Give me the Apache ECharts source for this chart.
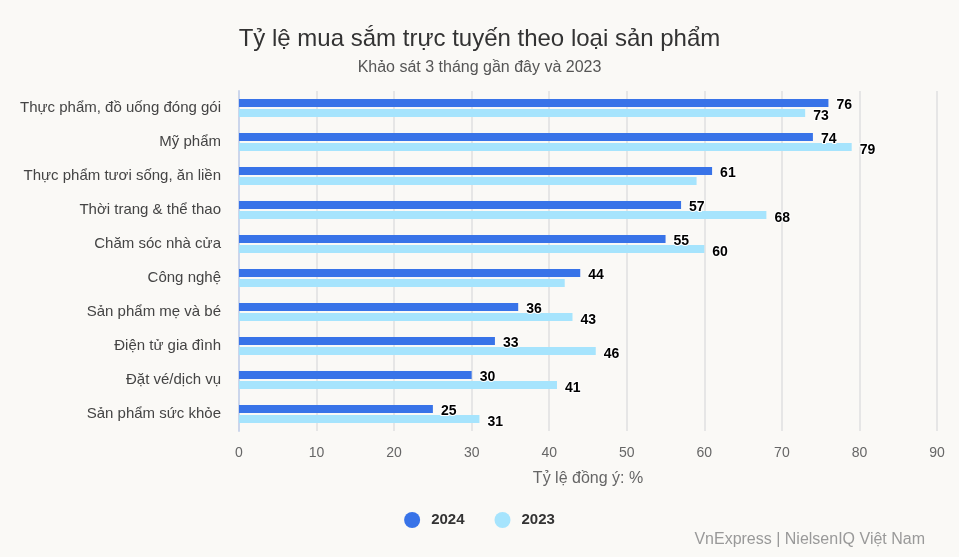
<!DOCTYPE html>
<html>
<head>
<meta charset="utf-8">
<style>
  html, body { margin: 0; padding: 0; background: #faf9f6; }
  #chart { width: 959px; height: 557px; }
</style>
<script src="https://cdn.jsdelivr.net/npm/echarts@6/dist/echarts.min.js"></script>
</head>
<body>
<div id="chart"></div>
<script>
const categories = [
  'Thực phẩm, đồ uống đóng gói',
  'Mỹ phẩm',
  'Thực phẩm tươi sống, ăn liền',
  'Thời trang & thể thao',
  'Chăm sóc nhà cửa',
  'Công nghệ',
  'Sản phẩm mẹ và bé',
  'Điện tử gia đình',
  'Đặt vé/dịch vụ',
  'Sản phẩm sức khỏe'
]
const values2024 = [76, 74, 61, 57, 55, 44, 36, 33, 30, 25]
const values2023 = [73, 79, 59, 68, 60, 42, 43, 46, 41, 31]
// labels that the original hides (overlap)
const hidden2023 = [2, 5]

const font = '"Liberation Sans", Arial, sans-serif'

const chart = echarts.init(document.getElementById('chart'))

function barLabel(dy) {
  return {
    show: true,
    position: 'right',
    distance: 8,
    offset: [0, dy],
    color: '#000',
    fontWeight: 'bold',
    fontSize: 14,
    fontFamily: font,
    textBorderColor: '#fff',
    textBorderWidth: 2
  }
}

chart.setOption({
  backgroundColor: '#faf9f6',
  animation: false,
  title: {
    text: 'Tỷ lệ mua sắm trực tuyến theo loại sản phẩm',
    subtext: 'Khảo sát 3 tháng gần đây và 2023',
    left: 'center',
    top: 22,
    itemGap: 9,
    textStyle: { fontFamily: font, fontSize: 24, fontWeight: 'normal', color: '#333' },
    subtextStyle: { fontFamily: font, fontSize: 16, color: '#555' }
  },
  grid: { left: 239, right: 22, top: 91, bottom: 126 },
  legend: {
    data: ['2024', '2023'],
    bottom: 24,
    left: 'center',
    icon: 'circle',
    itemWidth: 16,
    itemHeight: 16,
    itemGap: 30,
    textStyle: { fontFamily: font, fontSize: 15, fontWeight: 'bold', color: '#333', padding: [0, 0, 0, 6] }
  },
  graphic: [{
    type: 'text',
    right: 34,
    bottom: 9,
    style: { text: 'VnExpress | NielsenIQ Việt Nam', font: '16px ' + font, fill: '#999' }
  }],
  xAxis: {
    type: 'value',
    min: 0,
    max: 90,
    interval: 10,
    name: 'Tỷ lệ đồng ý: %',
    nameLocation: 'middle',
    nameGap: 40,
    nameTextStyle: { fontFamily: font, fontSize: 16, color: '#666' },
    axisLabel: { fontFamily: font, fontSize: 14, color: '#666', margin: 15 },
    axisLine: { show: false },
    axisTick: { show: false },
    splitLine: { lineStyle: { color: '#e6e6e6', width: 2 } }
  },
  yAxis: {
    type: 'category',
    data: categories,
    inverse: true,
    axisLine: { show: true, lineStyle: { color: '#ccd6eb', width: 2 } },
    axisTick: { show: false },
    axisLabel: { fontFamily: font, fontSize: 15, color: '#444', margin: 18 }
  },
  series: [
    {
      name: '2024',
      type: 'bar',
      data: values2024,
      barWidth: 8,
      barGap: '25%',
      itemStyle: { color: '#3873e8' },
      label: barLabel(2)
    },
    {
      name: '2023',
      type: 'bar',
      data: values2023.map((v, i) => hidden2023.includes(i) ? { value: v, label: { show: false } } : v),
      barWidth: 8,
      itemStyle: { color: '#a6e4fd' },
      label: barLabel(3)
    }
  ]
})
</script>
</body>
</html>
